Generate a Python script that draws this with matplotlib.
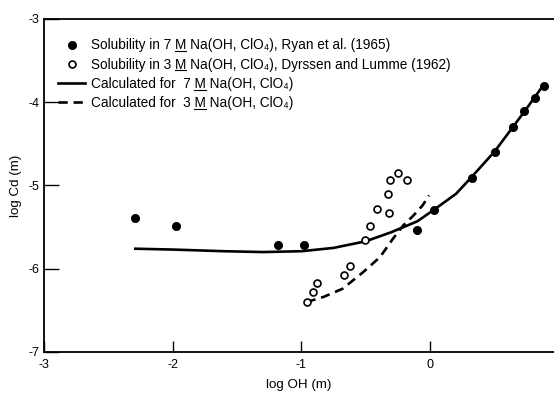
import matplotlib
matplotlib.use("Agg")
import matplotlib.pyplot as plt
from matplotlib.lines import Line2D

plt.rcParams['font.family'] = ['Liberation Sans', 'DejaVu Sans']

# Ryan et al. (1965), 7 M Na(OH, ClO4)
x_7m = [-2.29, -1.97, -1.18, -0.98, -0.10, 0.03, 0.32, 0.50, 0.64, 0.73, 0.81, 0.88]
y_7m = [-5.39, -5.49, -5.71, -5.71, -5.54, -5.29, -4.91, -4.60, -4.30, -4.11, -3.95, -3.80]

# Dyrssen and Lumme (1962), 3 M Na(OH, ClO4)
x_3m = [-0.96, -0.91, -0.88, -0.67, -0.62, -0.51, -0.47, -0.41, -0.32, -0.33, -0.31, -0.25, -0.18]
y_3m = [-6.40, -6.28, -6.17, -6.08, -5.97, -5.66, -5.49, -5.28, -5.33, -5.10, -4.94, -4.85, -4.93]

# calculated curves
xc_7m = [-2.29, -2.0, -1.6, -1.3, -1.0, -0.75, -0.5, -0.3, -0.1, 0.03, 0.2, 0.32, 0.5, 0.64, 0.75, 0.88]
yc_7m = [-5.76, -5.77, -5.79, -5.80, -5.79, -5.75, -5.67, -5.56, -5.43, -5.29, -5.10, -4.90, -4.59, -4.30, -4.07, -3.79]

xc_3m = [-0.96, -0.83, -0.68, -0.52, -0.39, -0.29, -0.21, -0.13, -0.06, -0.01]
yc_3m = [-6.40, -6.34, -6.24, -6.04, -5.86, -5.64, -5.48, -5.36, -5.24, -5.12]

# legend text is split at the underlined "M"
prefixes = ["Solubility in 7 ", "Solubility in 3 ", "Calculated for  7 ", "Calculated for  3 "]
suffixes = [" Na(OH, ClO\u2084), Ryan et al. (1965)",
            " Na(OH, ClO\u2084), Dyrssen and Lumme (1962)",
            " Na(OH, ClO\u2084)",
            " Na(OH, ClO\u2084)"]
labels = [p + "M" + s for p, s in zip(prefixes, suffixes)]

fig = plt.figure(figsize=(5.54, 3.95), dpi=100)
ax = fig.add_axes([0.079, 0.109, 0.921, 0.843])

ax.plot(xc_7m, yc_7m, color='black', lw=1.9)
ax.plot(xc_3m, yc_3m, color='black', lw=1.9, linestyle=(0, (3.5, 2.2)))
ax.plot(x_7m, y_7m, 'o', color='black', ms=5.5)
ax.plot(x_3m, y_3m, 'o', mfc='white', mec='black', mew=1.2, ms=5)

ax.set_xlim(-3, 0.96)
ax.set_ylim(-7, -3)
ax.set_xticks([-3, -2, -1, 0])
ax.set_yticks([-7, -6, -5, -4, -3])
ax.set_xticklabels(['-3', '-2', '-1', '0'])
ax.set_yticklabels(['-7', '-6', '-5', '-4', '-3'])
ax.tick_params(direction='in', labelsize=9, width=1.0)
ax.tick_params(axis='y', length=11, pad=3)
ax.tick_params(axis='x', length=8, pad=5)
ax.spines['right'].set_visible(False)
for s in ['left', 'bottom', 'top']:
    ax.spines[s].set_linewidth(1.3)

ax.set_xlabel('log OH (m)', fontsize=9.6, labelpad=6)
ax.set_ylabel('log Cd (m)', fontsize=9.6, labelpad=5)

handles = [
    Line2D([], [], marker='o', color='black', ls='none', ms=5.5),
    Line2D([], [], marker='o', mfc='white', mec='black', mew=1.2, ls='none', ms=5),
    Line2D([], [], color='black', lw=1.9),
    Line2D([], [], color='black', lw=1.9, linestyle=(0, (3.5, 2.2))),
]
leg = ax.legend(handles, labels, loc='upper left', frameon=False, fontsize=9.8,
                handlelength=1.95, handletextpad=0.42, labelspacing=0.38,
                borderaxespad=0.3, bbox_to_anchor=(0.01, 0.97))

# underline the molarity "M" in each legend entry
fig.canvas.draw()
renderer = fig.canvas.get_renderer()
for t, pre in zip(leg.get_texts(), prefixes):
    prop = t.get_fontproperties()
    bb = t.get_window_extent(renderer)
    _, _, d_full = renderer.get_text_width_height_descent(t.get_text(), prop, ismath=False)
    w_pre, _, _ = renderer.get_text_width_height_descent(pre, prop, ismath=False)
    w_m, _, _ = renderer.get_text_width_height_descent("M", prop, ismath=False)
    base = bb.y0 + d_full
    x0 = bb.x0 + w_pre
    fig.add_artist(Line2D([x0, x0 + w_m], [base - 1.8, base - 1.8], color='black',
                          lw=0.8, transform=None))

fig.savefig('out.png', dpi=100)
